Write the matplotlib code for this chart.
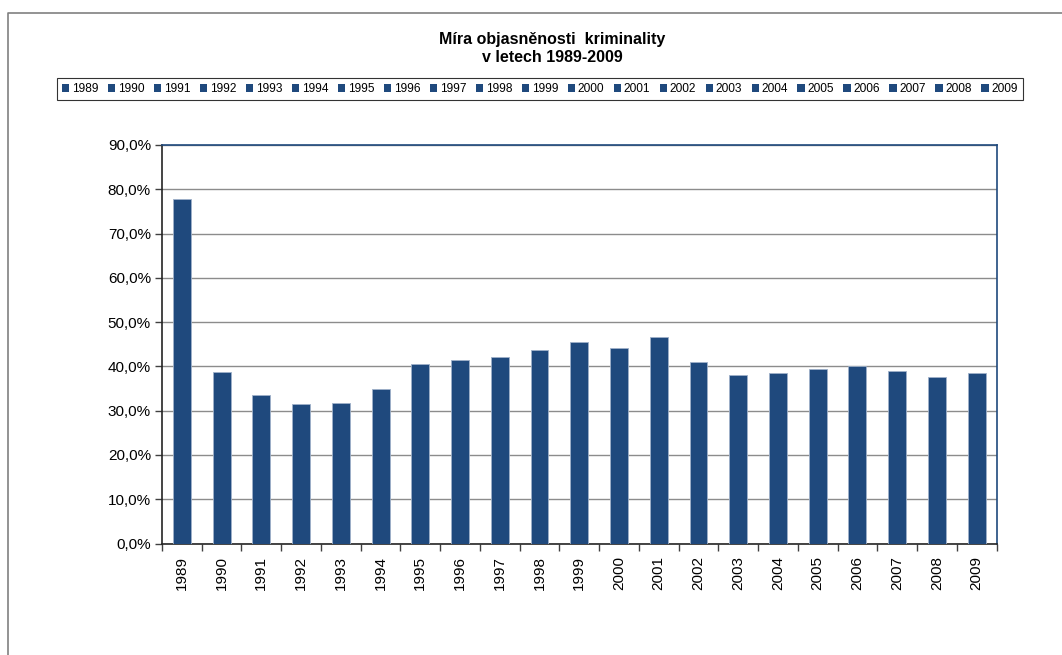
import matplotlib
matplotlib.use("Agg")
import matplotlib.pyplot as plt
from matplotlib.lines import Line2D
from matplotlib.patches import Patch
from matplotlib.ticker import FuncFormatter, FixedLocator

plt.rcParams["font.family"] = ["Liberation Sans", "DejaVu Sans"]

years = [str(y) for y in range(1989, 2010)]
clearance = [77.7, 38.7, 33.5, 31.6, 31.8, 35.0, 40.6, 41.5, 42.1, 43.6, 45.5,
             44.2, 46.7, 40.9, 38.0, 38.4, 39.5, 40.0, 39.0, 37.5, 38.5]

title = "Míra objasněnosti  kriminality\nv letech 1989-2009"
bar_color = "#1f497d"
W, H = 1062, 655

fig = plt.figure(figsize=(W / 100, H / 100), dpi=100)
ax = fig.add_axes([162 / W, 1 - 543.5 / H, (996.5 - 162) / W, (543.5 - 145) / H])

xs = list(range(len(years)))
for x, year, val in zip(xs, years, clearance):
    ax.bar(x, val / 100, width=0.45, color=bar_color, edgecolor="#9fb1c9",
           linewidth=0.6, label=year, zorder=3)

ax.set_xlim(-0.5, len(years) - 0.5)
ax.set_ylim(0, 0.9)
ax.set_yticks([i / 10 for i in range(10)])
ax.yaxis.set_major_formatter(FuncFormatter(lambda v, _: f"{v * 100:.1f}%".replace(".", ",")))
ax.grid(axis="y", color="#8c8c8c", linewidth=1.0, zorder=0)
ax.tick_params(axis="y", direction="out", length=5, width=1, color="#404040",
               labelsize=11, pad=3)

ax.set_xticks(xs)
ax.set_xticklabels(years, rotation=90)
ax.tick_params(axis="x", which="major", length=0, labelsize=11, pad=9)
ax.xaxis.set_minor_locator(FixedLocator([i - 0.5 for i in range(len(years) + 1)]))
ax.tick_params(axis="x", which="minor", direction="out", length=5, width=1, color="#404040")

for side in ("left", "bottom"):
    ax.spines[side].set_color("#252525")
    ax.spines[side].set_linewidth(1.2)
for side in ("top", "right"):
    ax.spines[side].set_color(bar_color)
    ax.spines[side].set_linewidth(1.2)

fig.text(552 / W, 1 - 48.5 / H, title, ha="center", va="center",
         fontsize=11.5, fontweight="bold", linespacing=1.2)

handles = [Patch(facecolor=bar_color, edgecolor="none") for _ in years]
leg = fig.legend(handles, years, loc="center", ncol=len(years),
                 bbox_to_anchor=(540 / W, 1 - 89 / H), fontsize=8.6,
                 handlelength=0.6, handleheight=0.6, handletextpad=0.25,
                 columnspacing=0.78, borderpad=0.45, frameon=True, fancybox=False)
leg.get_frame().set_edgecolor("#000000")
leg.get_frame().set_linewidth(0.8)

# outer chart frame, cut by the picture edges
fig.add_artist(Line2D([8 / W, 8 / W, 1.0], [0.0, 1 - 13 / H, 1 - 13 / H],
                      transform=fig.transFigure, color="#808080", linewidth=1.2))

fig.savefig("out.png", dpi=100)
